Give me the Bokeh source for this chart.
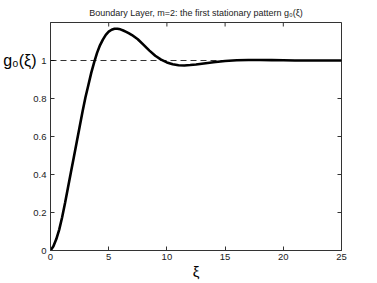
import math
from bokeh.plotting import figure
from bokeh.models import LinearAxis, FixedTicker, Span, Range1d
from bokeh.embed import file_html
from bokeh.resources import INLINE

xi = [0, 0.25, 0.5, 0.75, 1.0, 1.25, 1.5, 1.75, 2.0, 2.25, 2.5, 2.75, 3.0, 3.25,
      3.5, 3.75, 4.0, 4.25, 4.5, 4.75, 5.0, 5.25, 5.5, 5.75, 6.0, 6.25, 6.5, 6.75,
      7.0, 7.5, 8.0, 8.5, 9.0, 9.5, 10.0, 10.5, 11.0, 11.5, 12.0, 12.5, 13.0, 14.0,
      15.0, 16.0, 17.0, 18.0, 19.0, 20.0, 21.0, 22.0, 23.0, 24.0, 25.0]
g0 = [0, 0.022, 0.06, 0.11, 0.175, 0.25, 0.33, 0.41, 0.49, 0.57, 0.65, 0.73,
      0.805, 0.87, 0.935, 0.99, 1.04, 1.08, 1.11, 1.135, 1.152, 1.162, 1.167,
      1.167, 1.164, 1.158, 1.151, 1.143, 1.134, 1.112, 1.082, 1.052, 1.025, 1.005,
      0.99, 0.98, 0.975, 0.974, 0.976, 0.979, 0.983, 0.991, 0.997, 1.001, 1.003,
      1.003, 1.002, 1.001, 1.0, 1.0, 1.0, 1.0, 1.0]
reference_level = 1.0

x_range = (0, 25)
y_range = (0, 1.2)
x_ticks = [0, 5, 10, 15, 20, 25]
y_ticks = [0, 0.2, 0.4, 0.6, 0.8, 1]
y_tick_labels = ["0", "0.2", "0.4", "0.6", "0.8", "1"]

title = "Boundary Layer, m=2: the first stationary pattern g\u2080(\u03be)"
x_label = "\u03be"
y_label = "g\u2080(\u03be)"

FONT = "Liberation Sans"
INK = "#222222"
FRAME = "#333333"

p = figure(width=376, height=282, x_range=Range1d(*x_range), y_range=Range1d(*y_range),
           output_backend="svg", toolbar_location=None,
           min_border_left=49, min_border_right=35, min_border_top=22,
           min_border_bottom=31)

p.title.text = title
p.title.align = "center"
p.title.text_font = FONT
p.title.text_font_size = "9px"
p.title.text_font_style = "normal"
p.title.text_color = INK
p.title.standoff = 9

p.xgrid.visible = False
p.ygrid.visible = False
p.outline_line_color = FRAME
p.outline_line_width = 1
p.background_fill_color = "white"
p.border_fill_color = "white"


def style_axis(ax, ticks):
    ax.ticker = FixedTicker(ticks=ticks)
    ax.major_tick_in = 4
    ax.major_tick_out = 0
    ax.minor_tick_in = 0
    ax.minor_tick_out = 0
    ax.axis_line_color = FRAME
    ax.major_tick_line_color = FRAME
    ax.major_label_text_font = FONT
    ax.major_label_text_font_size = "9.5px"
    ax.major_label_text_color = INK
    ax.major_label_standoff = 4


xa = p.xaxis[0]
style_axis(xa, x_ticks)
xa.major_label_standoff = 3
xa.axis_label = x_label
xa.axis_label_text_font = FONT
xa.axis_label_text_font_size = "15px"
xa.axis_label_text_font_style = "normal"
xa.axis_label_text_color = "black"
xa.axis_label_standoff = 0

ya = p.yaxis[0]
style_axis(ya, y_ticks)
ya.major_label_overrides = {t: s for t, s in zip(y_ticks, y_tick_labels)}

# horizontal y label at the level y = 1, as in the reference
ylab_axis = LinearAxis(ticker=FixedTicker(ticks=[reference_level]))
ylab_axis.major_label_overrides = {reference_level: y_label}
ylab_axis.major_label_text_font = FONT
ylab_axis.major_label_text_font_size = "16px"
ylab_axis.major_label_text_color = "black"
ylab_axis.major_label_standoff = -6
ylab_axis.major_tick_in = 0
ylab_axis.major_tick_out = 0
ylab_axis.minor_tick_in = 0
ylab_axis.minor_tick_out = 0
ylab_axis.axis_line_color = None
p.add_layout(ylab_axis, "left")

# inward ticks on the top and right edges (box on)
p.scatter(x=x_ticks, y=[y_range[1]] * len(x_ticks), marker="dash", size=8,
          angle=math.pi / 2, line_color=FRAME, line_width=1)
p.scatter(x=[x_range[1]] * len(y_ticks), y=y_ticks, marker="dash", size=8,
          line_color=FRAME, line_width=1)

p.add_layout(Span(location=reference_level, dimension="width", line_color="black",
                  line_width=0.8, line_dash="6 4"))
p.line(xi, g0, line_color="black", line_width=2.6)

open("out.html", "w").write(file_html(p, INLINE))
